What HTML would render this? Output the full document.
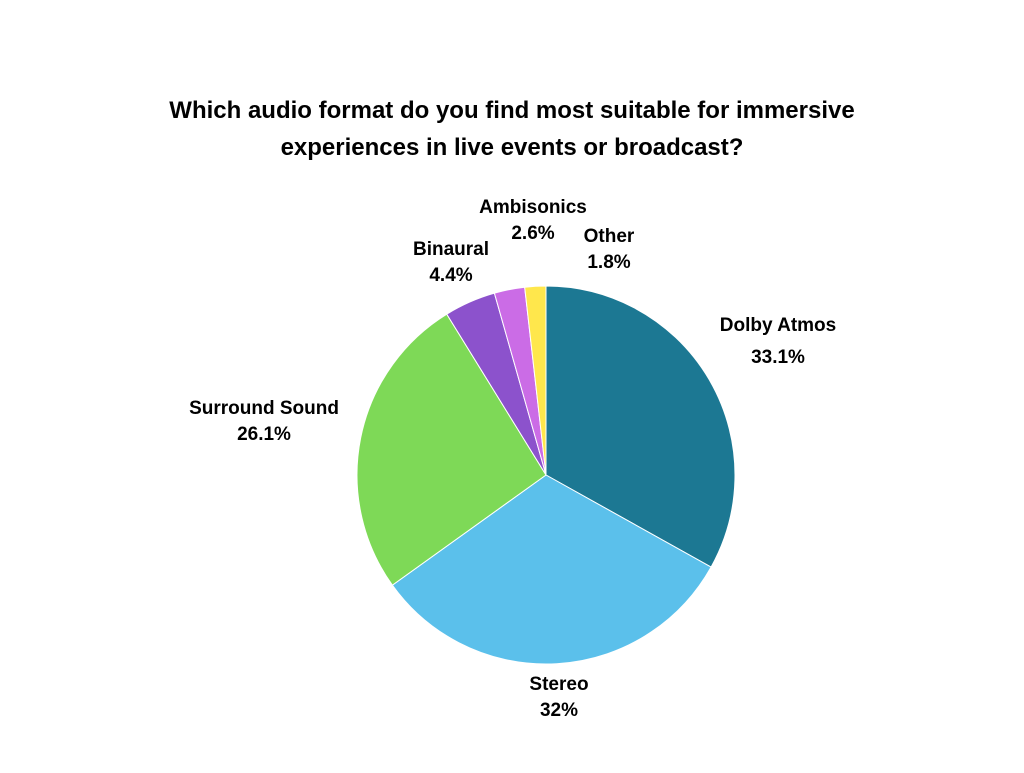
<!DOCTYPE html>
<html><head><meta charset="utf-8"><style>
body{margin:0;background:#fff;}
svg text{font-family:"Liberation Sans",sans-serif;font-weight:bold;fill:#000;}
</style></head><body>
<svg width="1024" height="768">
<text x="512" y="118" text-anchor="middle" font-size="24">Which audio format do you find most suitable for immersive</text>
<text x="512" y="155" text-anchor="middle" font-size="24">experiences in live events or broadcast?</text>
<g id="slices"></g>
<g id="labels"></g>
</svg>
<script>
const categories=["Dolby Atmos","Stereo","Surround Sound","Binaural","Ambisonics","Other"];
const values=[33.1,32,26.1,4.4,2.6,1.8];
const valueLabels=["33.1%","32%","26.1%","4.4%","2.6%","1.8%"];
const colors=["#1c7893","#5bc0eb","#7ed957","#8c52cc","#cb6ce6","#ffe74c"];
const cx=546,cy=475,r=189;
const total=values.reduce((a,b)=>a+b,0);
const ns="http://www.w3.org/2000/svg";
const g=document.getElementById('slices'),lg=document.getElementById('labels');
let a0=0;
values.forEach((v,i)=>{
  const a1=a0+v/total*2*Math.PI;
  const p=(a)=>[cx+r*Math.sin(a),cy-r*Math.cos(a)];
  const [x0,y0]=p(a0),[x1,y1]=p(a1);
  const path=document.createElementNS(ns,'path');
  path.setAttribute('d',`M${cx},${cy}L${x0},${y0}A${r},${r} 0 ${a1-a0>Math.PI?1:0} 1 ${x1},${y1}Z`);
  path.setAttribute('fill',colors[i]);
  path.setAttribute('stroke','#fff');
  path.setAttribute('stroke-width','1');
  
  
  g.appendChild(path);
  const mid=(a0+a1)/2;
  const small=v<10;
  const lr=small?r+(i===3?210:i===4?265:i===5?225:0)-0:r+60;
  let lx=cx+(small?0:lr*Math.sin(mid)),ly=cy-(small?0:lr*Math.cos(mid));
  if(i===0){lx=778;ly=325;} if(i===1){lx=559;ly=684;} if(i===2){lx=264;ly=408;}
  if(i===3){lx=451;ly=249;} if(i===4){lx=533;ly=207;} if(i===5){lx=609;ly=236;}
  const t=document.createElementNS(ns,'text');
  t.setAttribute('x',lx);t.setAttribute('y',ly+6);t.setAttribute('text-anchor','middle');t.setAttribute('font-size','19');
  t.textContent=categories[i];
  
  
  lg.appendChild(t);
  const t2=document.createElementNS(ns,'text');
  t2.setAttribute('x',lx);t2.setAttribute('y',ly+(i===0?36:30)+2);t2.setAttribute('text-anchor','middle');t2.setAttribute('font-size','19');
  t2.textContent=valueLabels[i];
  
  
  lg.appendChild(t2);
  a0=a1;
});
</script>
</body></html>
